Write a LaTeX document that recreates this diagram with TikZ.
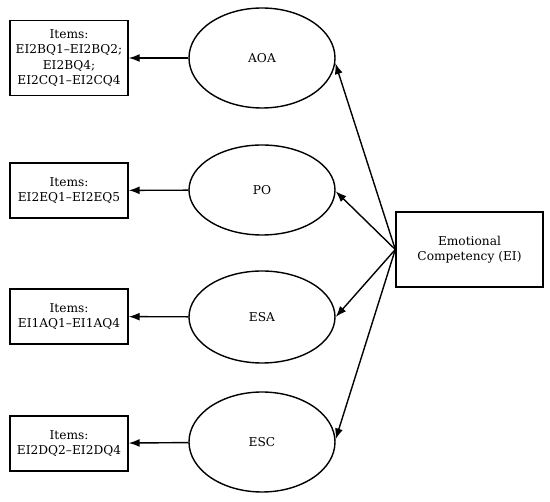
\documentclass[tikz,border=0pt]{standalone}
\usepackage{fontspec}
\setmainfont{DejaVu Serif}
\usetikzlibrary{arrows.meta,shapes.geometric}
\begin{document}
\begin{tikzpicture}[x=1pt,y=-1pt,
  every node/.style={font=\fontsize{12.2}{15.5}\selectfont, line width=1.4pt},
  item/.style={draw, rectangle, align=center, minimum width=118pt, minimum height=55pt, inner sep=2pt},
  lat/.style={draw, ellipse, minimum width=146pt, minimum height=100pt, inner sep=0pt},
  conn/.style={line width=1.4pt, -{Latex[length=11pt,width=8pt]}}]
\useasboundingbox (0,0) rectangle (550,502);
\node[item, minimum height=75pt] (b1) at (69,58) {Items:\\EI2BQ1–EI2BQ2;\\EI2BQ4;\\EI2CQ1–EI2CQ4};
\node[item] (b2) at (69,190.5) {Items:\\EI2EQ1–EI2EQ5};
\node[item] (b3) at (69,316.5) {Items:\\EI1AQ1–EI1AQ4};
\node[item] (b4) at (69,443.5) {Items:\\EI2DQ2–EI2DQ4};
\node[lat] (aoa) at (262,58) {AOA};
\node[lat, minimum height=90pt] (po) at (262,190) {PO};
\node[lat, minimum height=92pt] (esa) at (262,317) {ESA};
\node[lat] (esc) at (262,442) {ESC};
\node[item, minimum width=147pt, minimum height=75pt] (ei) at (469.5,249.5) {Emotional\\Competency (EI)};
\draw[conn] (aoa) -- (b1);
\draw[conn] (po) -- (b2);
\draw[conn] (esa) -- (b3);
\draw[conn] (esc) -- (b4);
\draw[conn] (ei.west) -- (aoa.-4);
\draw[conn] (ei.west) -- (po.-1);
\draw[conn] (ei.west) -- (esa.east);
\draw[conn] (ei.west) -- (esc.2);
\end{tikzpicture}
\end{document}
